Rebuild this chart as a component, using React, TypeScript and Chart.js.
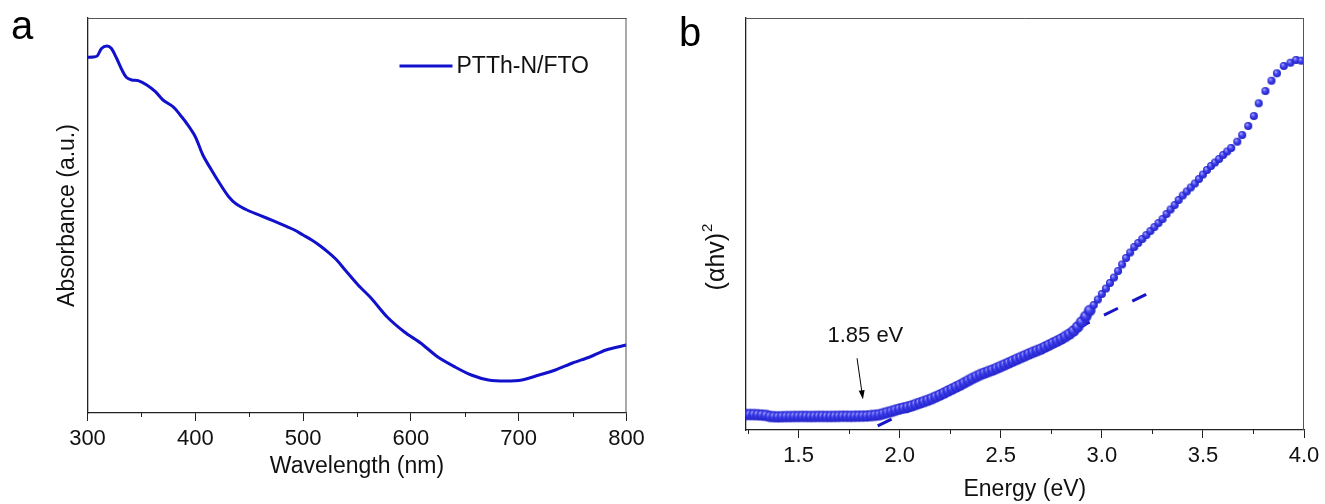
import React, { useEffect, useRef } from "react";
import { Chart, registerables } from "chart.js";

Chart.register(...registerables);

const FONT = '"Liberation Sans", Arial, Helvetica, sans-serif';
const INK = "#111111";

// ---- Panel a: absorption spectrum of PTTh-N/FTO ----
const wavelengthNm = [
  300, 305, 309, 313, 318, 322, 327, 332, 336, 341,
  347, 355, 363, 370, 380, 386, 392, 400, 407, 415,
  423, 431, 438, 448, 460, 472, 485, 492, 500, 508,
  516, 524, 532, 539, 551, 563, 578, 594, 609, 625,
  641, 656, 672, 688, 703, 719, 734, 750, 766, 781,
  800,
];
const absorbance = [
  90.06, 90.13, 90.38, 92.28, 92.91, 92.33, 89.8, 86.84, 84.99, 84.3,
  84.13, 83.04, 81.34, 79.24, 77.39, 75.44, 73.34, 69.95, 65.32, 61.52,
  57.97, 54.76, 52.91, 51.39, 50.05, 48.68, 47.16, 46.33, 45.06, 43.8,
  42.28, 40.51, 38.48, 36.2, 32.41, 29.11, 24.3, 20.51, 17.72, 14.18,
  11.65, 9.62, 8.35, 8.1, 8.35, 9.62, 10.89, 12.66, 14.18, 15.95,
  17.22,
];
const wavelengthTicks = [300, 400, 500, 600, 700, 800];
const wavelengthMinorTicks = [350, 450, 550, 650, 750];
const seriesName = "PTTh-N/FTO";

// ---- Panel b: Tauc plot ----
const energyEv = [
  1.24, 1.26, 1.28, 1.3, 1.32, 1.34, 1.36, 1.38, 1.4, 1.42,
  1.44, 1.46, 1.48, 1.5, 1.52, 1.54, 1.56, 1.58, 1.6, 1.62,
  1.64, 1.66, 1.68, 1.7, 1.72, 1.74, 1.76, 1.78, 1.8, 1.82,
  1.84, 1.86, 1.88, 1.9, 1.92, 1.94, 1.96, 1.98, 2.0, 2.02,
  2.04, 2.06, 2.08, 2.1, 2.12, 2.14, 2.16, 2.18, 2.2, 2.22,
  2.24, 2.26, 2.28, 2.3, 2.32, 2.34, 2.36, 2.38, 2.4, 2.42,
  2.44, 2.46, 2.48, 2.5, 2.52, 2.54, 2.56, 2.58, 2.6, 2.62,
  2.64, 2.66, 2.68, 2.7, 2.72, 2.74, 2.76, 2.78, 2.8, 2.82,
  2.84, 2.86, 2.88, 2.9, 2.92, 2.94, 2.96, 2.98, 3.0, 3.02,
  3.04, 3.06, 3.08, 3.1, 3.12, 3.14, 3.16, 3.18, 3.2, 3.22,
  3.24, 3.26, 3.28, 3.3, 3.32, 3.34, 3.36, 3.38, 3.4, 3.42,
  3.44, 3.46, 3.48, 3.5, 3.52, 3.54, 3.56, 3.58, 3.6, 3.62,
  3.64, 3.67, 3.694, 3.724, 3.752, 3.776, 3.809, 3.839, 3.866, 3.9,
  3.933, 3.961, 3.987,
];
const ahv2 = [
  3.76, 3.76, 3.74, 3.69, 3.62, 3.52, 3.28, 3.22, 3.2, 3.22,
  3.25, 3.26, 3.28, 3.28, 3.3, 3.28, 3.27, 3.28, 3.3, 3.3,
  3.29, 3.28, 3.3, 3.32, 3.34, 3.33, 3.32, 3.34, 3.36, 3.38,
  3.4, 3.5, 3.59, 3.71, 3.98, 4.25, 4.51, 4.81, 5.1, 5.34,
  5.58, 5.87, 6.21, 6.55, 6.89, 7.23, 7.62, 8.06, 8.5, 8.98,
  9.47, 9.95, 10.44, 10.92, 11.46, 11.99, 12.5, 12.99, 13.47, 13.83,
  14.2, 14.56, 14.98, 15.41, 15.85, 16.29, 16.72, 17.16, 17.6, 18.03,
  18.47, 18.88, 19.27, 19.66, 20.15, 20.63, 21.12, 21.6, 22.09, 22.69,
  23.3, 24.03, 25.0, 26.21, 27.55, 29.0, 30.34, 31.67, 33.01, 34.34,
  35.68, 37.01, 38.59, 40.17, 41.75, 43.08, 44.42, 45.39, 46.36, 47.33,
  48.3, 49.27, 50.24, 51.21, 52.43, 53.52, 54.61, 55.83, 56.92, 57.89,
  58.86, 59.83, 60.92, 62.01, 63.11, 64.08, 64.93, 65.78, 66.75, 67.6,
  68.45, 69.98, 71.6, 73.79, 76.21, 79.3, 82.28, 84.78, 86.58, 88.35,
  89.15, 89.81, 89.64,
];
const energyTicks = [1.5, 2.0, 2.5, 3.0, 3.5, 4.0];
const energyMinorTicks = [1.25, 1.75, 2.25, 2.75, 3.25, 3.75];
const taucTitle = "(αhv)";
const taucTitleExponent = "2";

// Linear fit of the absorption edge, extrapolated to zero
const bandGapEv = 1.85;
const fitSlope = 24.04;
const fitRangeEv = [1.891, 3.233];
const bandGapLabel = "1.85 eV";
const arrowTail = { x: 1.789, y: 17.4 };
const arrowTip = { x: 1.818, y: 7.45 };
const labelAt = { x: 1.83, y: 22.8 };

const TICK_FONT = { family: FONT, size: 22 };
const TITLE_FONT = { family: FONT, size: 23 };

function sphereMarker(r: number, light: string, mid: string, edge: string) {
  const size = Math.ceil(r * 2 + 2);
  const c = document.createElement("canvas");
  c.width = size;
  c.height = size;
  const g = c.getContext("2d")!;
  const cx = size / 2;
  const cy = size / 2;
  const grad = g.createRadialGradient(cx - r * 0.35, cy - r * 0.4, r * 0.1, cx, cy, r);
  grad.addColorStop(0, light);
  grad.addColorStop(0.45, mid);
  grad.addColorStop(1, edge);
  g.fillStyle = grad;
  g.beginPath();
  g.arc(cx, cy, r, 0, Math.PI * 2);
  g.fill();
  return c;
}

// Draws the top/right frame, short minor ticks and the panel letter
function framePlugin(id: string, letter: string, letterPos: [number, number], minor: number[]) {
  return {
    id,
    afterDraw(chart: any) {
      const { ctx, chartArea: ca } = chart;
      const xs = chart.scales.x;
      ctx.save();
      ctx.strokeStyle = "#555";
      ctx.lineWidth = 1;
      ctx.beginPath();
      ctx.moveTo(ca.left, ca.top + 0.5);
      ctx.lineTo(ca.right, ca.top + 0.5);
      ctx.moveTo(ca.right - 0.5, ca.top);
      ctx.lineTo(ca.right - 0.5, ca.bottom);
      ctx.stroke();
      ctx.strokeStyle = "#222";
      ctx.beginPath();
      for (const v of minor) {
        const px = Math.round(xs.getPixelForValue(v)) + 0.5;
        ctx.moveTo(px, ca.bottom);
        ctx.lineTo(px, ca.bottom + 4);
      }
      ctx.stroke();
      ctx.fillStyle = "#000";
      ctx.font = `40px ${FONT}`;
      ctx.textBaseline = "alphabetic";
      ctx.textAlign = "left";
      ctx.fillText(letter, letterPos[0], letterPos[1]);
      ctx.restore();
    },
  };
}

const legendPlugin = {
  id: "seriesLegend",
  afterDraw(chart: any) {
    const { ctx, chartArea: ca } = chart;
    const y = ca.top + 48;
    const x0 = ca.right - 227;
    ctx.save();
    ctx.strokeStyle = "#1111cc";
    ctx.lineWidth = 3;
    ctx.beginPath();
    ctx.moveTo(x0, y);
    ctx.lineTo(x0 + 53, y);
    ctx.stroke();
    ctx.fillStyle = INK;
    ctx.font = `23px ${FONT}`;
    ctx.textBaseline = "middle";
    ctx.textAlign = "left";
    ctx.fillText(seriesName, x0 + 57, y + 1);
    ctx.restore();
  },
};

// Rotated y title with a raised exponent
const taucTitlePlugin = {
  id: "taucTitle",
  afterDraw(chart: any) {
    const { ctx, chartArea: ca } = chart;
    const cx = ca.left - 30;
    const cy = ca.top + (ca.bottom - ca.top) * 0.58;
    ctx.save();
    ctx.translate(cx, cy);
    ctx.rotate(-Math.PI / 2);
    ctx.fillStyle = INK;
    ctx.textBaseline = "alphabetic";
    ctx.textAlign = "left";
    ctx.font = `25px ${FONT}`;
    const wMain = ctx.measureText(taucTitle).width;
    ctx.font = `15px ${FONT}`;
    const wExp = ctx.measureText(taucTitleExponent).width;
    const x0 = -(wMain + wExp + 1) / 2;
    ctx.font = `25px ${FONT}`;
    ctx.fillText(taucTitle, x0, 8);
    ctx.font = `15px ${FONT}`;
    ctx.fillText(taucTitleExponent, x0 + wMain + 1, -4);
    ctx.restore();
  },
};

const annotationPlugin = {
  id: "gapAnnotation",
  afterDatasetsDraw(chart: any) {
    const { ctx } = chart;
    const xs = chart.scales.x;
    const ys = chart.scales.y;
    const tx = xs.getPixelForValue(arrowTail.x);
    const ty = ys.getPixelForValue(arrowTail.y);
    const hx = xs.getPixelForValue(arrowTip.x);
    const hy = ys.getPixelForValue(arrowTip.y);
    const ang = Math.atan2(hy - ty, hx - tx);
    const headLen = 9;
    const headHalf = 3;
    ctx.save();
    ctx.strokeStyle = "#000";
    ctx.fillStyle = "#000";
    ctx.lineWidth = 1;
    ctx.beginPath();
    ctx.moveTo(tx, ty);
    ctx.lineTo(hx - Math.cos(ang) * headLen * 0.8, hy - Math.sin(ang) * headLen * 0.8);
    ctx.stroke();
    ctx.beginPath();
    ctx.moveTo(hx, hy);
    const bx = hx - Math.cos(ang) * headLen;
    const by = hy - Math.sin(ang) * headLen;
    ctx.lineTo(bx + Math.sin(ang) * headHalf, by - Math.cos(ang) * headHalf);
    ctx.lineTo(bx - Math.sin(ang) * headHalf, by + Math.cos(ang) * headHalf);
    ctx.closePath();
    ctx.fill();
    ctx.fillStyle = INK;
    ctx.font = `22px ${FONT}`;
    ctx.textAlign = "center";
    ctx.textBaseline = "middle";
    ctx.fillText(bandGapLabel, xs.getPixelForValue(labelAt.x), ys.getPixelForValue(labelAt.y));
    ctx.restore();
  },
};

function bottomAxis(min: number, max: number, ticks: number[], fmt: (v: number) => string, height: number, title: string, titlePad: number) {
  return {
    type: "linear" as const,
    position: "bottom" as const,
    min,
    max,
    afterFit(scale: any) {
      scale.height = height;
    },
    afterBuildTicks(scale: any) {
      scale.ticks = ticks.map((v) => ({ value: v }));
    },
    grid: {
      display: true,
      drawOnChartArea: false,
      drawTicks: true,
      tickLength: 8,
      tickColor: "#222",
      tickWidth: 1,
    },
    border: { display: true, color: "#222", width: 1.2 },
    ticks: {
      autoSkip: false,
      maxRotation: 0,
      padding: 5,
      color: INK,
      font: TICK_FONT,
      callback: (v: any) => fmt(Number(v)),
    },
    title: {
      display: true,
      text: title,
      color: INK,
      font: TITLE_FONT,
      padding: { top: 0, bottom: titlePad },
    },
  };
}

function leftAxis(width: number, title: string | null, titlePad: number) {
  return {
    type: "linear" as const,
    position: "left" as const,
    min: 0,
    max: 100,
    afterFit(scale: any) {
      scale.width = width;
    },
    grid: { display: false },
    border: { display: true, color: "#222", width: 1.3 },
    ticks: { display: false },
    title: {
      display: title !== null,
      text: title ?? "",
      color: INK,
      font: TITLE_FONT,
      padding: { top: titlePad, bottom: 0 },
    },
  };
}

function AbsorbancePanel() {
  const ref = useRef<HTMLCanvasElement>(null);
  useEffect(() => {
    const points = wavelengthNm.map((x, i) => ({ x, y: absorbance[i] }));
    const chart = new Chart(ref.current!, {
      type: "line",
      data: {
        datasets: [
          {
            label: seriesName,
            data: points,
            borderColor: "#1111cc",
            borderWidth: 3,
            pointRadius: 0,
            tension: 0.3,
            fill: false,
          },
        ],
      },
      options: {
        responsive: false,
        animation: false,
        events: [],
        devicePixelRatio: 1,
        layout: { padding: { left: 0, top: 18, right: 33.5, bottom: 0 } },
        plugins: { legend: { display: false }, tooltip: { enabled: false } },
        scales: {
          x: bottomAxis(300, 800, wavelengthTicks, (v) => String(v), 91, "Wavelength (nm)", 23.2),
          y: leftAxis(87.5, "Absorbance (a.u.)", 54.2),
        },
      },
      plugins: [framePlugin("frameA", "a", [11, 39], wavelengthMinorTicks), legendPlugin],
    } as any);
    return () => chart.destroy();
  }, []);
  return <canvas ref={ref} width={660} height={504} style={{ position: "absolute", left: 0, top: 0 }} />;
}

function TaucPanel() {
  const ref = useRef<HTMLCanvasElement>(null);
  useEffect(() => {
    // Overlapping readings below the edge merge into a wide band; above it the dots separate
    const bandMarker = sphereMarker(5.8, "#9a9aff", "#3c3cee", "#2222c4");
    const dotMarker = sphereMarker(4, "#a4a4ff", "#4242f0", "#2020c0");
    const points = energyEv.map((x, i) => ({ x, y: ahv2[i] }));
    const fit = fitRangeEv.map((x) => ({ x, y: fitSlope * (x - bandGapEv) }));
    const dense = (ctx: any) => ctx.raw && ctx.raw.x < 2.95;
    const chart = new Chart(ref.current!, {
      type: "scatter",
      data: {
        datasets: [
          {
            label: "(αhv)²",
            data: points,
            pointStyle: (ctx: any) => (dense(ctx) ? bandMarker : dotMarker),
            pointRadius: (ctx: any) => (dense(ctx) ? 5.8 : 4),
            order: 0,
          },
          {
            label: "fit",
            data: fit,
            showLine: true,
            pointRadius: 0,
            borderColor: "#1616c8",
            borderWidth: 3,
            borderDash: [15.5, 16],
            order: 1,
          },
        ],
      },
      options: {
        responsive: false,
        animation: false,
        events: [],
        devicePixelRatio: 1,
        layout: { padding: { left: 0, top: 18, right: 21, bottom: 0 } },
        plugins: { legend: { display: false }, tooltip: { enabled: false } },
        scales: {
          x: bottomAxis(1.238, 4.0, energyTicks, (v) => v.toFixed(1), 74, "Energy (eV)", 0.2),
          y: leftAxis(85.7, null, 0),
        },
      },
      plugins: [framePlugin("frameB", "b", [19, 46], energyMinorTicks), annotationPlugin, taucTitlePlugin],
    } as any);
    return () => chart.destroy();
  }, []);
  return <canvas ref={ref} width={665} height={504} style={{ position: "absolute", left: 660, top: 0 }} />;
}

export default function App() {
  return (
    <div
      style={{
        position: "absolute",
        left: 0,
        top: 0,
        width: 1325,
        height: 504,
        background: "#ffffff",
        overflow: "hidden",
      }}
    >
      <AbsorbancePanel />
      <TaucPanel />
    </div>
  );
}
